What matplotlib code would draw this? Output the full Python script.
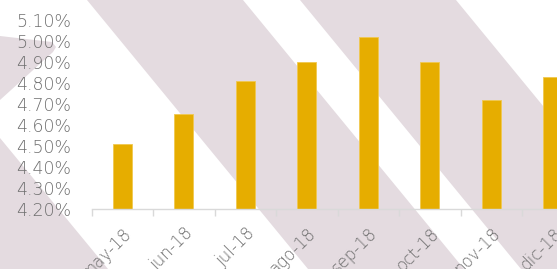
import numpy as np
import matplotlib.pyplot as plt
from matplotlib.patches import Polygon

months = ['may-18', 'jun-18', 'jul-18', 'ago-18', 'sep-18', 'oct-18', 'nov-18', 'dic-18']
rates = [4.51, 4.65, 4.81, 4.90, 5.02, 4.90, 4.72, 4.83]
yticks = [4.2, 4.3, 4.4, 4.5, 4.6, 4.7, 4.8, 4.9, 5.0, 5.1]

# decorative background stripes, in pixel coords (557 x 269)
stripes = [
    [(87, 0), (243, 0), (464, 269), (308, 269)],
    [(300, 0), (456, 0), (677, 269), (521, 269)],
    [(0, 138), (108, 269), (0, 269)],
    [(0, 36), (52, 42), (56, 47), (53, 52), (0, 100)],
]

fig = plt.figure(figsize=(5.57, 2.69), dpi=100)
bg = fig.add_axes([0, 0, 1, 1])
bg.set_xlim(0, 557)
bg.set_ylim(269, 0)
bg.axis('off')
for s in stripes:
    bg.add_patch(Polygon(s, closed=True, fc='#e4dbe0', ec='none'))

ax = fig.add_axes([0.1646, 0.2230, 0.8833, 0.7027])
ax.patch.set_alpha(0)
x = np.arange(len(months))
ax.bar(x, rates, width=0.31, color='#e6ad00', edgecolor='#f0c850', linewidth=0.6)
ax.set_xlim(-0.5, len(months) - 0.5)
ax.set_ylim(yticks[0], yticks[-1])

for side in ['top', 'right', 'left']:
    ax.spines[side].set_visible(False)
ax.spines['bottom'].set_color('#d9d9d9')
ax.spines['bottom'].set_linewidth(1)

font = dict(family=['DejaVu Sans'], weight='light', color='#6e6e6e', size=12.5)
ax.set_yticks(yticks)
ax.set_yticklabels([f'{v:.2f}%' for v in yticks], **font)
ax.tick_params(axis='y', length=0, pad=15)

ax.set_xticks(x)
ax.set_xticklabels(months, rotation=45, ha='right', va='top', rotation_mode='anchor',
                   **dict(font, size=12))
ax.set_xticks(np.arange(len(months) + 1) - 0.5, minor=True)
ax.tick_params(axis='x', which='major', length=0, pad=11)
ax.tick_params(axis='x', which='minor', length=5, color='#d9d9d9', width=1)

fig.savefig('out.png', dpi=100)
